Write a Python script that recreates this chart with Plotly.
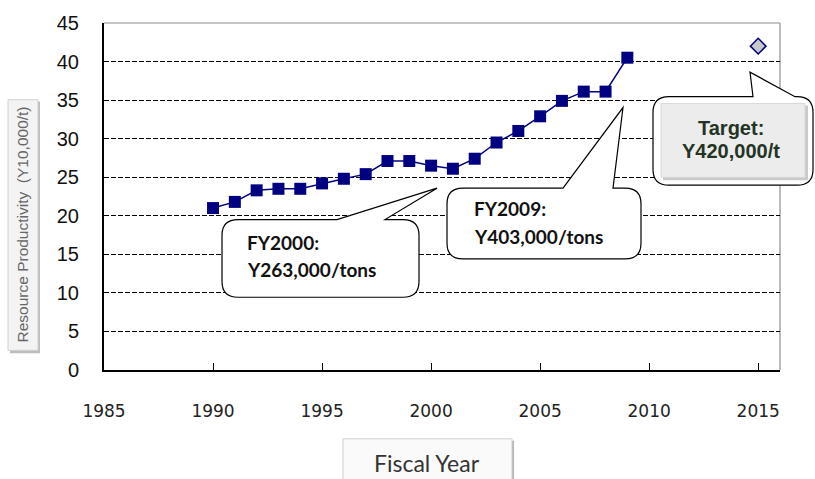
import plotly.graph_objects as go

# ---- data ----
years = [1990, 1991, 1992, 1993, 1994, 1995, 1996, 1997, 1998, 1999,
         2000, 2001, 2002, 2003, 2004, 2005, 2006, 2007, 2008, 2009]
productivity = [21.0, 21.8, 23.3, 23.5, 23.5, 24.2, 24.8, 25.4, 27.1, 27.1,
                26.5, 26.1, 27.4, 29.5, 31.0, 32.9, 34.9, 36.1, 36.1, 40.5]
target_year = [2015]
target_value = [42.0]
x_tick_vals = [1985, 1990, 1995, 2000, 2005, 2010, 2015]
x_tick_text = ["1985", "1990", "1995", "2000", "2005", "2010", "2015"]
y_tick_vals = [0, 5, 10, 15, 20, 25, 30, 35, 40, 45]
y_tick_text = ["0", "5", "10", "15", "20", "25", "30", "35", "40", "45"]
callout_2000 = ["FY2000:", "Y263,000/tons"]
callout_2009 = ["FY2009:", "Y403,000/tons"]
callout_target = ["Target:", "Y420,000/t"]
x_title = "Fiscal Year"
y_title = "Resource Productivity  (Y10,000/t)"

# ---- layout geometry (pixels) ----
FW, FH = 815, 479
L, T = 104, 17
R, B = 780, 370
W, H = R - L, B - T


def px(x):
    return (x - L) / W


def py(y):
    return (B - y) / H


def pt(x, y):
    return f"{px(x):.5f},{py(y):.5f}"


def bubble(x0, y0, x1, y1, r, tail=None):
    """Rounded rectangle with optional tail on the top edge.
    tail = (ax, tipx, tipy, bx) with ax < bx."""
    p = f"M {pt(x0 + r, y0)} "
    if tail:
        ax, tx, ty, bx = tail
        p += f"L {pt(ax, y0)} L {pt(tx, ty)} L {pt(bx, y0)} "
    p += f"L {pt(x1 - r, y0)} Q {pt(x1, y0)} {pt(x1, y0 + r)} "
    p += f"L {pt(x1, y1 - r)} Q {pt(x1, y1)} {pt(x1 - r, y1)} "
    p += f"L {pt(x0 + r, y1)} Q {pt(x0, y1)} {pt(x0, y1 - r)} "
    p += f"L {pt(x0, y0 + r)} Q {pt(x0, y0)} {pt(x0 + r, y0)} Z"
    return p


fig = go.Figure()

fig.add_trace(go.Scatter(
    x=years, y=productivity, mode="lines+markers",
    line=dict(color="#000080", width=1.5),
    marker=dict(symbol="square", size=12, color="#000080"),
    showlegend=False, hoverinfo="x+y",
))
fig.add_trace(go.Scatter(
    x=target_year, y=target_value, mode="markers",
    marker=dict(symbol="diamond", size=12, color="#c8c8c8",
                line=dict(color="#000080", width=1.5)),
    showlegend=False, hoverinfo="x+y",
))

shapes = []
# plot border (top/right) in gray
shapes.append(dict(type="line", xref="paper", yref="paper", x0=0, x1=1, y0=1, y1=1,
                   line=dict(color="#8c8c8c", width=1.2), layer="below"))
shapes.append(dict(type="line", xref="paper", yref="paper", x0=1, x1=1, y0=0, y1=1,
                   line=dict(color="#8c8c8c", width=1.2), layer="below"))

# callouts
shapes.append(dict(type="path", xref="paper", yref="paper",
                   path=bubble(222, 217, 419, 296, 16, (337, 437, 185, 385)),
                   fillcolor="white", line=dict(color="black", width=1.2), layer="above"))
shapes.append(dict(type="path", xref="paper", yref="paper",
                   path=bubble(447, 185, 641, 257, 16, (563, 623, 103, 613)),
                   fillcolor="white", line=dict(color="black", width=1.2), layer="above"))
shapes.append(dict(type="path", xref="paper", yref="paper",
                   path=bubble(653, 92, 813, 182, 16, (753, 750, 67, 795)),
                   fillcolor="white", line=dict(color="black", width=1.2), layer="above"))
# inner bevel box of target callout
shapes.append(dict(type="rect", xref="paper", yref="paper",
                   x0=px(663), x1=px(808), y0=py(101), y1=py(177),
                   fillcolor="#c9c9c9", line=dict(width=0), layer="above"))
shapes.append(dict(type="rect", xref="paper", yref="paper",
                   x0=px(661), x1=px(805), y0=py(99), y1=py(174),
                   fillcolor="#ececec", line=dict(color="#d8d8d8", width=1), layer="above"))

# y-title box
shapes.append(dict(type="rect", xref="paper", yref="paper",
                   x0=px(10), x1=px(40), y0=py(97), y1=py(353),
                   fillcolor="#bdbdbd", line=dict(width=0), layer="above"))
shapes.append(dict(type="rect", xref="paper", yref="paper",
                   x0=px(8), x1=px(38), y0=py(95), y1=py(350),
                   fillcolor="#f3f3f3", line=dict(color="#d0d0d0", width=1), layer="above"))
# x-title box
shapes.append(dict(type="rect", xref="paper", yref="paper",
                   x0=px(345), x1=px(514), y0=py(442), y1=py(485),
                   fillcolor="#b5b5b5", line=dict(width=0), layer="above"))
shapes.append(dict(type="rect", xref="paper", yref="paper",
                   x0=px(343), x1=px(512), y0=py(440), y1=py(485),
                   fillcolor="#fafafa", line=dict(color="#d0d0d0", width=1), layer="above"))

annotations = []
cal = dict(family="Lato, 'Open Sans', sans-serif", size=19, color="#111111", weight="bold")
annotations.append(dict(x=px(245), y=py(240), text=callout_2000[0]))
annotations.append(dict(x=px(245), y=py(268), text=callout_2000[1]))
annotations.append(dict(x=px(472), y=py(206), text=callout_2009[0]))
annotations.append(dict(x=px(472), y=py(234), text=callout_2009[1]))
for a in annotations:
    a.update(xref="paper", yref="paper", xanchor="left", yanchor="middle",
             showarrow=False, font=cal)
tgt = dict(family="'Liberation Sans', Arial, sans-serif", size=20, color="#243424", weight="bold")
annotations.append(dict(x=px(731), y=py(124), text=callout_target[0], xref="paper", yref="paper",
                        xanchor="center", yanchor="middle", showarrow=False, font=tgt))
annotations.append(dict(x=px(731), y=py(147), text=callout_target[1], xref="paper", yref="paper",
                        xanchor="center", yanchor="middle", showarrow=False, font=tgt))
annotations.append(dict(x=px(23), y=py(222), text=y_title, textangle=-90,
                        xref="paper", yref="paper", xanchor="center", yanchor="middle",
                        showarrow=False,
                        font=dict(family="'Liberation Sans', Arial, sans-serif", size=15.5, color="#666666")))
annotations.append(dict(x=px(427), y=py(465), text=x_title,
                        xref="paper", yref="paper", xanchor="center", yanchor="middle",
                        showarrow=False,
                        font=dict(family="Lato, 'Open Sans', sans-serif", size=23, color="#333333")))

fig.update_layout(
    width=FW, height=FH,
    margin=dict(l=L, r=FW - R, t=T, b=FH - B, pad=0),
    paper_bgcolor="white", plot_bgcolor="white",
    shapes=shapes, annotations=annotations,
    xaxis=dict(range=[1985, 2016], tickvals=x_tick_vals, ticktext=x_tick_text,
               showgrid=False, zeroline=False, showline=True, linecolor="black", linewidth=2,
               ticks="inside", ticklen=7, tickwidth=1.3, tickcolor="black",
               ticklabelstandoff=25,
               tickfont=dict(family="'DejaVu Sans', sans-serif", size=17, color="#222222")),
    yaxis=dict(range=[0, 45], tickvals=y_tick_vals, ticktext=y_tick_text,
               showgrid=True, gridcolor="black", gridwidth=1, griddash="5px,2px",
               zeroline=False, showline=True, linecolor="black", linewidth=2,
               ticks="", ticklabelstandoff=19,
               tickfont=dict(family="'Liberation Sans', Arial, sans-serif",
                             size=20, color="#111111")),
)

fig.write_html("out.html")
